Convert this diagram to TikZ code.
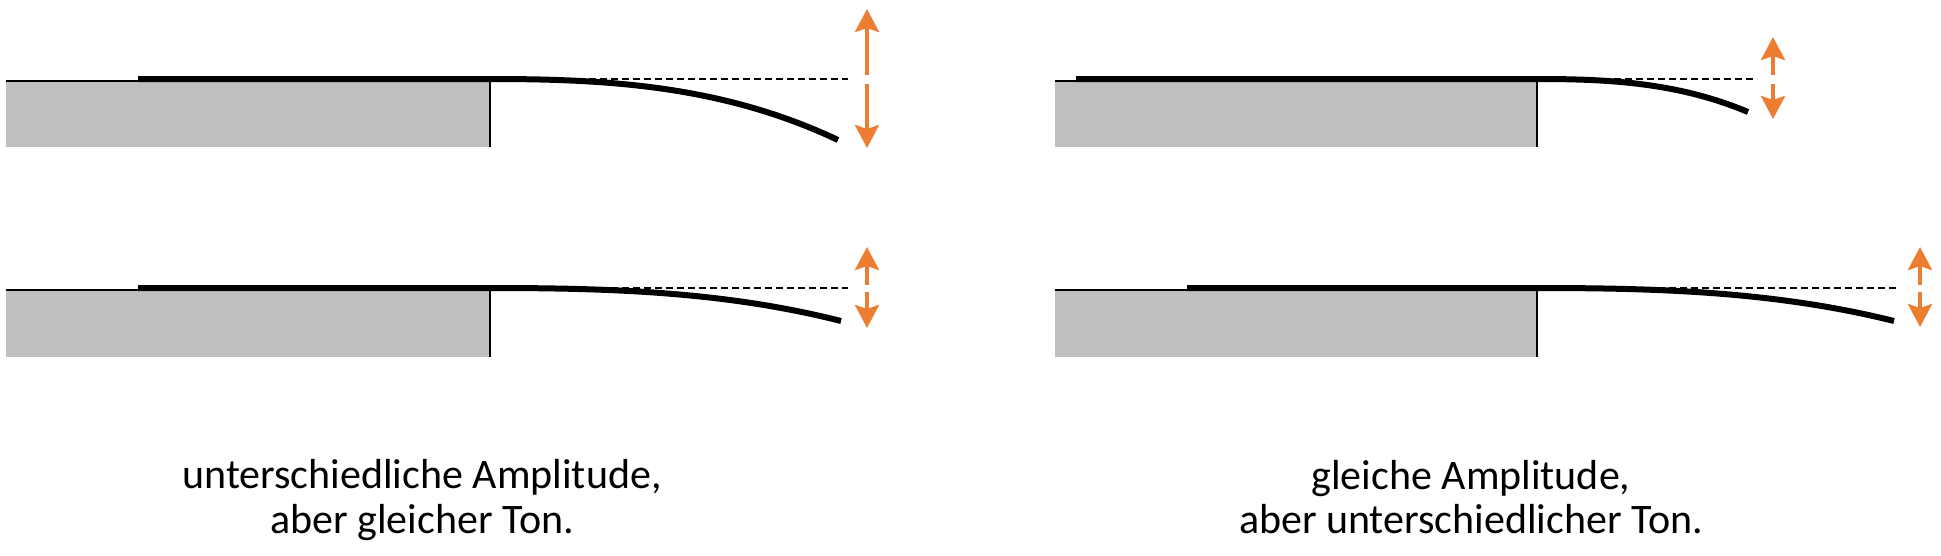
\documentclass[tikz,border=0pt]{standalone}
\usepackage{fontspec}
\setmainfont{Carlito}
\usetikzlibrary{arrows.meta}
\definecolor{tablegray}{RGB}{191,191,191}
\definecolor{arroworange}{RGB}{237,125,49}
\begin{document}
\begin{tikzpicture}[x=1pt,y=-1pt,
  tablefill/.style={fill=tablegray, draw=none},
  edgeline/.style={line width=2pt},
  ruler/.style={line width=6pt},
  restline/.style={line width=1.5pt, dash pattern=on 7pt off 4pt},
  ampl/.style={draw=arroworange, line width=4pt, -{Stealth[length=23pt,width=24pt,inset=4pt]}},
  caption/.style={font=\fontsize{42}{45}\selectfont, anchor=base, inner sep=0pt}]
\useasboundingbox (0,0) rectangle (1941,555);

% ---------- top left ----------
\coordinate (tlA) at (6,82);
\coordinate (tlB) at (490,147);
\coordinate (tlS) at (6,81);
\coordinate (tlT) at (138,81);
\coordinate (tlR) at (138,79);
\coordinate (tlE) at (490,79);
\coordinate (tlF) at (838,140);
\coordinate (tlD) at (848,79);
\coordinate (tlU0) at (867,74.5);
\coordinate (tlU1) at (867,9);
\coordinate (tlL0) at (867,83.5);
\coordinate (tlL1) at (867,148);
\fill[tablefill] (tlA) rectangle (tlB);
\draw[edgeline] (tlS) -- (tlT);
\draw[edgeline] (tlE) -- (tlB);
\draw[restline] (tlE) -- (tlD);
\draw[ruler] (tlR) -- (tlE) .. controls (606,79) and (722,85.1) .. (tlF);
\draw[ampl] (tlU0) -- (tlU1);
\draw[ampl] (tlL0) -- (tlL1);

% ---------- bottom left ----------
\coordinate (blA) at (6,291);
\coordinate (blB) at (490,357);
\coordinate (blS) at (6,290);
\coordinate (blT) at (138,290);
\coordinate (blR) at (138,288);
\coordinate (blE) at (490,288);
\coordinate (blF) at (841,321);
\coordinate (blD) at (848,288);
\coordinate (blU0) at (867,284.5);
\coordinate (blU1) at (867,247);
\coordinate (blL0) at (867,291.5);
\coordinate (blL1) at (867,328);
\fill[tablefill] (blA) rectangle (blB);
\draw[edgeline] (blS) -- (blT);
\draw[edgeline] (blE) -- (blB);
\draw[restline] (blE) -- (blD);
\draw[ruler] (blR) -- (blE) .. controls (607,288) and (724,291.3) .. (blF);
\draw[ampl] (blU0) -- (blU1);
\draw[ampl] (blL0) -- (blL1);

% ---------- top right ----------
\coordinate (trA) at (1055,82);
\coordinate (trB) at (1537,147);
\coordinate (trS) at (1055,81);
\coordinate (trT) at (1076,81);
\coordinate (trR) at (1076,79);
\coordinate (trE) at (1537,79);
\coordinate (trF) at (1748,112);
\coordinate (trD) at (1757,79);
\coordinate (trU0) at (1773,74.5);
\coordinate (trU1) at (1773,37);
\coordinate (trL0) at (1773,83.5);
\coordinate (trL1) at (1773,119);
\fill[tablefill] (trA) rectangle (trB);
\draw[edgeline] (trS) -- (trT);
\draw[edgeline] (trE) -- (trB);
\draw[restline] (trE) -- (trD);
\draw[ruler] (trR) -- (trE) .. controls (1607.3,79) and (1677.7,82.3) .. (trF);
\draw[ampl] (trU0) -- (trU1);
\draw[ampl] (trL0) -- (trL1);

% ---------- bottom right ----------
\coordinate (brA) at (1055,291);
\coordinate (brB) at (1537,357);
\coordinate (brS) at (1055,290);
\coordinate (brT) at (1187,290);
\coordinate (brR) at (1187,288);
\coordinate (brE) at (1537,288);
\coordinate (brF) at (1894,321);
\coordinate (brD) at (1900,288);
\coordinate (brU0) at (1920,284.5);
\coordinate (brU1) at (1920,247);
\coordinate (brL0) at (1920,291.5);
\coordinate (brL1) at (1920,327);
\fill[tablefill] (brA) rectangle (brB);
\draw[edgeline] (brS) -- (brT);
\draw[edgeline] (brE) -- (brB);
\draw[restline] (brE) -- (brD);
\draw[ruler] (brR) -- (brE) .. controls (1656,288) and (1775,291.3) .. (brF);
\draw[ampl] (brU0) -- (brU1);
\draw[ampl] (brL0) -- (brL1);

% ---------- captions ----------
\node[caption] (capL1) at (422,488) {unterschiedliche Amplitude,};
\node[caption] (capL2) at (422,533) {aber gleicher Ton.};
\node[caption] (capR1) at (1471,489) {gleiche Amplitude,};
\node[caption] (capR2) at (1471,533) {aber unterschiedlicher Ton.};
\end{tikzpicture}
\end{document}
